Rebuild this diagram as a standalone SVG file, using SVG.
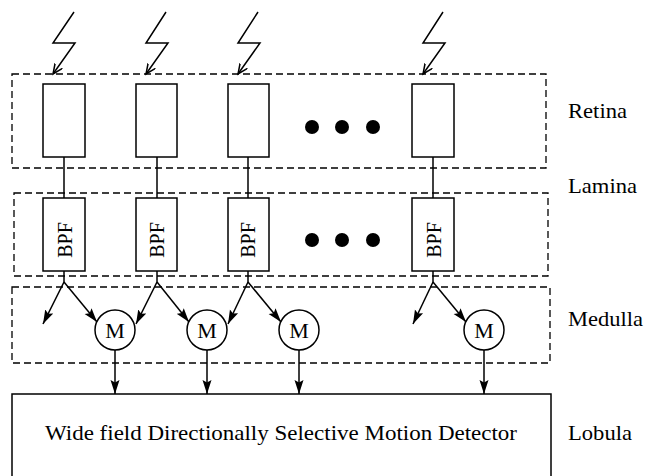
<svg xmlns="http://www.w3.org/2000/svg" width="645" height="476" viewBox="0 0 645 476">
<style>
.box{fill:none;stroke:#000;stroke-width:1.3;stroke-dasharray:7,4}
.cell{fill:#fff;stroke:#000;stroke-width:1.5}
.ln{fill:none;stroke:#000;stroke-width:1.5}
.txt{font-family:"Liberation Serif","Times New Roman",serif;font-size:22px;fill:#000}
.bpf{font-family:"Liberation Serif","Times New Roman",serif;font-size:20px;fill:#000}
.dot{fill:#000}
</style>
<defs>
<marker id="ah" markerWidth="16" markerHeight="10" refX="14" refY="5" orient="auto" markerUnits="userSpaceOnUse">
<path d="M0,0.5 L14,5 L0,9.5 L2.5,5 Z" fill="#000"/>
</marker>
<marker id="vh" markerWidth="12" markerHeight="10" refX="10" refY="5" orient="auto" markerUnits="userSpaceOnUse">
<path d="M0,0.5 L10,5 L0,9.5" fill="none" stroke="#000" stroke-width="1.5"/>
</marker>
</defs>
<rect width="645" height="476" fill="#fff"/>

<g id="layers">
<rect id="retina-box" class="box" x="12" y="74" width="534" height="94"/>
<rect id="lamina-box" class="box" x="14" y="193" width="534" height="83"/>
<rect id="medulla-box" class="box" x="12" y="287" width="538" height="76"/>
</g>

<g id="labels">
<text class="txt" x="568" y="118" textLength="59" lengthAdjust="spacingAndGlyphs">Retina</text>
<text class="txt" x="568" y="193" textLength="69" lengthAdjust="spacingAndGlyphs">Lamina</text>
<text class="txt" x="568" y="326" textLength="75" lengthAdjust="spacingAndGlyphs">Medulla</text>
<text class="txt" x="568" y="440" textLength="64" lengthAdjust="spacingAndGlyphs">Lobula</text>
</g>

<g id="connectors">
<polyline class="ln" points="74,12 53,43 75,43 53,74" marker-end="url(#vh)"/>
<polyline class="ln" points="166,12 146,43 168,43 146,74" marker-end="url(#vh)"/>
<polyline class="ln" points="258,12 238,43 260,43 238,74" marker-end="url(#vh)"/>
<polyline class="ln" points="443,12 423,43 445,43 423,74" marker-end="url(#vh)"/>

<line class="ln" x1="64" y1="157" x2="64" y2="198"/>
<line class="ln" x1="157" y1="157" x2="157" y2="198"/>
<line class="ln" x1="248" y1="157" x2="248" y2="198"/>
<line class="ln" x1="433" y1="157" x2="433" y2="198"/>

<line class="ln" x1="64" y1="271" x2="64" y2="282"/>
<line class="ln" x1="64" y1="282" x2="43" y2="324" marker-end="url(#ah)"/>
<line class="ln" x1="64" y1="282" x2="97" y2="322" marker-end="url(#ah)"/>
<line class="ln" x1="157" y1="271" x2="157" y2="282"/>
<line class="ln" x1="157" y1="282" x2="136" y2="324" marker-end="url(#ah)"/>
<line class="ln" x1="157" y1="282" x2="189" y2="322" marker-end="url(#ah)"/>
<line class="ln" x1="248" y1="271" x2="248" y2="282"/>
<line class="ln" x1="248" y1="282" x2="228" y2="324" marker-end="url(#ah)"/>
<line class="ln" x1="248" y1="282" x2="281" y2="322" marker-end="url(#ah)"/>
<line class="ln" x1="433" y1="271" x2="433" y2="282"/>
<line class="ln" x1="433" y1="282" x2="413" y2="324" marker-end="url(#ah)"/>
<line class="ln" x1="433" y1="282" x2="466" y2="322" marker-end="url(#ah)"/>

<line class="ln" x1="115" y1="350" x2="115" y2="394" marker-end="url(#ah)"/>
<line class="ln" x1="207" y1="350" x2="207" y2="394" marker-end="url(#ah)"/>
<line class="ln" x1="299" y1="350" x2="299" y2="394" marker-end="url(#ah)"/>
<line class="ln" x1="484" y1="350" x2="484" y2="394" marker-end="url(#ah)"/>
</g>

<g id="retina-cells">
<rect id="r1" class="cell" x="43" y="84" width="42" height="73"/>
<rect id="r2" class="cell" x="136" y="84" width="41" height="73"/>
<rect id="r3" class="cell" x="228" y="84" width="41" height="73"/>
<rect id="r4" class="cell" x="412" y="84" width="42" height="73"/>
</g>

<g id="retina-dots">
<circle class="dot" cx="312" cy="127" r="7"/>
<circle class="dot" cx="342" cy="127" r="7"/>
<circle class="dot" cx="373" cy="127" r="7"/>
</g>

<g id="bpf1"><rect class="cell" x="43" y="198" width="42" height="73"/><text class="bpf" text-anchor="middle" transform="translate(72,240) rotate(-90)">BPF</text></g>
<g id="bpf2"><rect class="cell" x="136" y="198" width="41" height="73"/><text class="bpf" text-anchor="middle" transform="translate(164,240) rotate(-90)">BPF</text></g>
<g id="bpf3"><rect class="cell" x="228" y="198" width="41" height="73"/><text class="bpf" text-anchor="middle" transform="translate(255,240) rotate(-90)">BPF</text></g>
<g id="bpf4"><rect class="cell" x="412" y="198" width="42" height="73"/><text class="bpf" text-anchor="middle" transform="translate(441,240) rotate(-90)">BPF</text></g>

<g id="lamina-dots">
<circle class="dot" cx="312" cy="240" r="7"/>
<circle class="dot" cx="342" cy="240" r="7"/>
<circle class="dot" cx="373" cy="240" r="7"/>
</g>

<g id="m1"><circle class="cell" cx="115" cy="330" r="20"/><text class="txt" x="115" y="338" text-anchor="middle">M</text></g>
<g id="m2"><circle class="cell" cx="207" cy="330" r="20"/><text class="txt" x="207" y="338" text-anchor="middle">M</text></g>
<g id="m3"><circle class="cell" cx="299" cy="330" r="20"/><text class="txt" x="299" y="338" text-anchor="middle">M</text></g>
<g id="m4"><circle class="cell" cx="484" cy="330" r="20"/><text class="txt" x="484" y="338" text-anchor="middle">M</text></g>

<g id="lobula">
<rect class="cell" x="12" y="394" width="539" height="100"/>
<text class="txt" x="45" y="440" textLength="472" lengthAdjust="spacingAndGlyphs">Wide field Directionally Selective Motion Detector</text>
</g>
</svg>
